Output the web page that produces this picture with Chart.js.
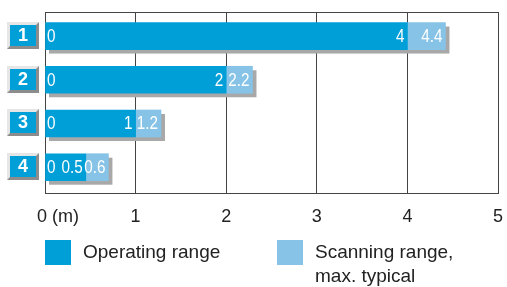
<!DOCTYPE html>
<html>
<head>
<meta charset="utf-8">
<script src="https://cdn.jsdelivr.net/npm/chart.js@4.4.0/dist/chart.umd.min.js"></script>
<style>
html,body{margin:0;padding:0;background:#fff;}
#wrap{width:507px;height:287px;}
</style>
</head>
<body>
<div id="wrap"><canvas id="c" width="507" height="287"></canvas></div>
<script>
// ---- data ----
const rowLabels = ['1', '2', '3', '4'];
const operatingEnd = [4, 2, 1, 0.45];          // drawn end of operating range (m)
const scanningEnd = [4.42, 2.29, 1.28, 0.70];   // drawn end of max. scanning range (m)
const operatingText = ['4', '2', '1', '0.5'];
const scanningText = ['4.4', '2.2', '1.2', '0.6'];
const startText = ['0', '0', '0', '0'];
const xTickLabels = ['0 (m)', '1', '2', '3', '4', '5'];
const legendLabels = [['Operating range'], ['Scanning range,', 'max. typical']];

const DARK = '#009FD8';
const LIGHT = '#86C3E6';
const SHADOW = '#A8A8A8';
const FONT = '"Liberation Sans", Arial, sans-serif';

const opData = operatingEnd.map((v, i) => ({ x: [0, v], y: i }));
const scData = scanningEnd.map((v, i) => ({ x: [operatingEnd[i], v], y: i }));

function narrowText(ctx, t, x, y, align) {
  ctx.save();
  ctx.translate(x, y);
  ctx.scale(0.85, 1);
  ctx.textAlign = align;
  ctx.fillText(t, 0, 0);
  ctx.restore();
}

const decor = {
  id: 'decor',
  beforeDatasetsDraw(chart) {
    const ctx = chart.ctx, ca = chart.chartArea;
    const xs = chart.scales.x;
    ctx.save();
    ctx.strokeStyle = '#444'; ctx.lineWidth = 1;
    ctx.beginPath(); ctx.moveTo(ca.left, ca.top + 0.5); ctx.lineTo(ca.right + 0.5, ca.top + 0.5); ctx.stroke();
    const m0 = chart.getDatasetMeta(0), m1 = chart.getDatasetMeta(1);
    ctx.fillStyle = SHADOW;
    m0.data.forEach((bar, i) => {
      const end = m1.data[i];
      const h = bar.height;
      const left = xs.getPixelForValue(0);
      ctx.fillRect(left + 4, bar.y - h / 2 + 4, end.x - left, h);
    });
    ctx.restore();
  },
  afterDatasetsDraw(chart) {
    const ctx = chart.ctx;
    const xs = chart.scales.x, ys = chart.scales.y;
    ctx.save();
    ctx.fillStyle = '#fff';
    ctx.font = '18px ' + FONT;
    ctx.textBaseline = 'middle';
    rowLabels.forEach((r, i) => {
      const y = ys.getPixelForValue(i) + 1;
      narrowText(ctx, startText[i], xs.getPixelForValue(0) + 2, y, 'left');
      narrowText(ctx, operatingText[i], xs.getPixelForValue(operatingEnd[i]) - 3, y, 'right');
      narrowText(ctx, scanningText[i], xs.getPixelForValue(scanningEnd[i]) - 3, y, 'right');
    });
    ctx.restore();
  },
  afterDraw(chart) {
    const ctx = chart.ctx;
    const xs = chart.scales.x, ys = chart.scales.y;
    ctx.save();
    rowLabels.forEach((r, i) => {
      const cy = ys.getPixelForValue(i);
      const x0 = 7, x1 = 39, y0 = Math.round(cy - 14), y1 = Math.round(cy + 13);
      ctx.fillStyle = '#E6E6E6';
      ctx.fillRect(x0, y0, x1 - x0, y1 - y0);
      ctx.fillStyle = '#8C8C8C';
      ctx.beginPath();
      ctx.moveTo(x1, y0); ctx.lineTo(x1, y1); ctx.lineTo(x0, y1);
      ctx.lineTo(x0 + 3, y1 - 3); ctx.lineTo(x1 - 3, y1 - 3); ctx.lineTo(x1 - 3, y0 + 3);
      ctx.closePath(); ctx.fill();
      ctx.fillStyle = DARK;
      ctx.fillRect(x0 + 3, y0 + 3, x1 - x0 - 6, y1 - y0 - 6);
      ctx.fillStyle = '#fff';
      ctx.font = 'bold 18px ' + FONT;
      ctx.textAlign = 'center'; ctx.textBaseline = 'middle';
      ctx.fillText(r, (x0 + x1) / 2, (y0 + y1) / 2 + 1);
    });
    ctx.fillStyle = '#222';
    ctx.font = '18px ' + FONT;
    ctx.textBaseline = 'middle';
    xTickLabels.forEach((t, i) => {
      const px = xs.getPixelForValue(i);
      if (i === 0) { ctx.textAlign = 'left'; ctx.fillText(t, px - 8, 217); }
      else { ctx.textAlign = 'center'; ctx.fillText(t, px, 217); }
    });
    const cols = [DARK, LIGHT];
    const lx = [45, 277];
    ctx.font = '19px ' + FONT;
    ctx.textAlign = 'left';
    legendLabels.forEach((lines, k) => {
      ctx.fillStyle = cols[k];
      ctx.fillRect(lx[k], 240, 26, 25);
      ctx.fillStyle = '#222';
      lines.forEach((ln, j) => ctx.fillText(ln, lx[k] + 38, 253 + j * 24));
    });
    ctx.restore();
  }
};

new Chart(document.getElementById('c'), {
  type: 'bar',
  data: {
    datasets: [
      { label: legendLabels[0].join(' '), data: opData, backgroundColor: DARK, barThickness: 27, grouped: false, borderWidth: 0 },
      { label: legendLabels[1].join(' '), data: scData, backgroundColor: LIGHT, barThickness: 27, grouped: false, borderWidth: 0 }
    ]
  },
  options: {
    indexAxis: 'y',
    responsive: false,
    devicePixelRatio: 1,
    animation: false,
    layout: { padding: { left: 0, right: 9, top: 12, bottom: 0 } },
    plugins: { legend: { display: false }, tooltip: { enabled: false } },
    scales: {
      y: {
        type: 'linear', reverse: true, min: -0.55, max: 3.59, offset: false,
        ticks: { display: false },
        grid: { display: false },
        border: { display: false },
        afterFit(s) { s.width = 45; }
      },
      x: {
        type: 'linear', min: 0, max: 5,
        ticks: { display: false, stepSize: 1 },
        grid: { color: '#444', lineWidth: 1, drawTicks: false },
        border: { display: true, color: '#444' },
        afterFit(s) { s.height = 94; }
      }
    }
  },
  plugins: [decor]
});
</script>
</body>
</html>
